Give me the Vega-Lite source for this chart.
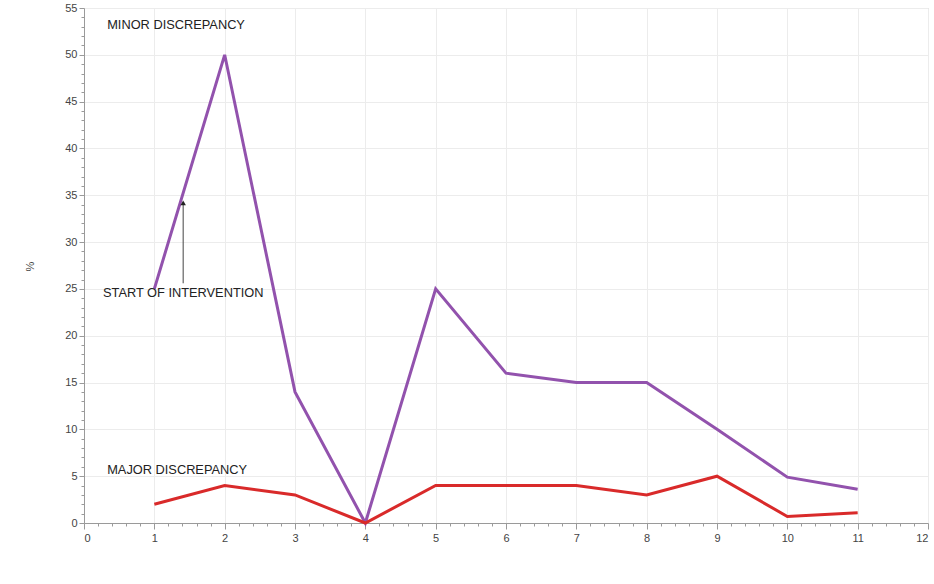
{
  "$schema": "https://vega.github.io/schema/vega-lite/v6.json",
  "width": 844,
  "height": 515,
  "autosize": {"type": "none"},
  "padding": {"left": 84, "top": 8, "right": 6, "bottom": 61},
  "background": "white",
  "config": {
    "view": {"stroke": "#c8c8c8", "strokeWidth": 1},
    "font": "Liberation Sans",
    "axis": {"labelFont": "Liberation Sans", "titleFont": "Liberation Sans"}
  },
  "datasets": {
    "series": [
      {"x": 1, "pct": 25, "series": "Minor"},
      {"x": 2, "pct": 50, "series": "Minor"},
      {"x": 3, "pct": 14, "series": "Minor"},
      {"x": 4, "pct": 0, "series": "Minor"},
      {"x": 5, "pct": 25, "series": "Minor"},
      {"x": 6, "pct": 16, "series": "Minor"},
      {"x": 7, "pct": 15, "series": "Minor"},
      {"x": 8, "pct": 15, "series": "Minor"},
      {"x": 9, "pct": 10, "series": "Minor"},
      {"x": 10, "pct": 4.9, "series": "Minor"},
      {"x": 11, "pct": 3.6, "series": "Minor"},
      {"x": 1, "pct": 2, "series": "Major"},
      {"x": 2, "pct": 4, "series": "Major"},
      {"x": 3, "pct": 3, "series": "Major"},
      {"x": 4, "pct": 0, "series": "Major"},
      {"x": 5, "pct": 4, "series": "Major"},
      {"x": 6, "pct": 4, "series": "Major"},
      {"x": 7, "pct": 4, "series": "Major"},
      {"x": 8, "pct": 3, "series": "Major"},
      {"x": 9, "pct": 5, "series": "Major"},
      {"x": 10, "pct": 0.7, "series": "Major"},
      {"x": 11, "pct": 1.1, "series": "Major"}
    ],
    "labels": [
      {"x": 0.33, "pct": 53.2, "label": "MINOR DISCREPANCY"},
      {"x": 0.33, "pct": 5.7, "label": "MAJOR DISCREPANCY"},
      {"x": 0.27, "pct": 24.6, "label": "START OF INTERVENTION"}
    ],
    "arrow": [
      {"x": 1.41, "pct": 25.6, "pct2": 34.2}
    ]
  },
  "layer": [
    {
      "data": {"name": "series"},
      "mark": {"type": "line", "strokeWidth": 3},
      "encoding": {
        "x": {
          "field": "x", "type": "quantitative",
          "scale": {"domain": [0, 12], "nice": false, "zero": false},
          "axis": {
            "values": [0,0.2,0.4,0.6,0.8,1,1.2,1.4,1.6,1.8,2,2.2,2.4,2.6,2.8,3,3.2,3.4,3.6,3.8,4,4.2,4.4,4.6,4.8,5,5.2,5.4,5.6,5.8,6,6.2,6.4,6.6,6.8,7,7.2,7.4,7.6,7.8,8,8.2,8.4,8.6,8.8,9,9.2,9.4,9.6,9.8,10,10.2,10.4,10.6,10.8,11,11.2,11.4,11.6,11.8,12],
            "tickCount": 200,
            "tickMinStep": 0.05,
            "format": "d",
            "labelExpr": "abs(datum.value - round(datum.value)) < 0.001 ? datum.label : ''",
            "labelOverlap": false,
            "title": null, "grid": true, "gridColor": "#ececec", "gridWidth": 1,
            "gridOpacity": {"condition": {"test": "abs(datum.value - round(datum.value)) < 0.001", "value": 1}, "value": 0},
            "tickSize": {"condition": {"test": "abs(datum.value - round(datum.value)) < 0.001", "value": 6}, "value": 3},
            "domainColor": "#9a9a9a", "tickColor": "#9a9a9a",
            "labelFontSize": 11, "labelColor": "#444", "labelPadding": 3, "orient": "bottom"
          }
        },
        "y": {
          "field": "pct", "type": "quantitative",
          "scale": {"domain": [0, 55], "nice": false},
          "axis": {
            "values": [0,1,2,3,4,5,6,7,8,9,10,11,12,13,14,15,16,17,18,19,20,21,22,23,24,25,26,27,28,29,30,31,32,33,34,35,36,37,38,39,40,41,42,43,44,45,46,47,48,49,50,51,52,53,54,55],
            "tickCount": 200,
            "tickMinStep": 0.5,
            "format": "d",
            "labelExpr": "datum.value % 5 === 0 ? datum.label : ''",
            "labelOverlap": false,
            "title": "%", "titleFontSize": 11, "titleFontWeight": "normal", "titleColor": "#444",
            "titleX": -49, "titleY": 258,
            "grid": true, "gridColor": "#ececec", "gridWidth": 1,
            "gridOpacity": {"condition": {"test": "datum.value % 5 === 0", "value": 1}, "value": 0},
            "tickSize": {"condition": {"test": "datum.value % 5 === 0", "value": 5}, "value": 3},
            "domainColor": "#9a9a9a", "tickColor": "#9a9a9a",
            "labelFontSize": 11, "labelColor": "#444", "labelPadding": 2, "orient": "left"
          }
        },
        "color": {
          "field": "series", "type": "nominal",
          "scale": {"domain": ["Minor", "Major"], "range": ["#9252ad", "#d92a2a"]},
          "legend": null
        },
        "detail": {"field": "series"}
      }
    },
    {
      "data": {"name": "labels"},
      "mark": {"type": "text", "align": "left", "baseline": "middle", "fontSize": 12.8, "color": "#222", "font": "Liberation Sans"},
      "encoding": {
        "x": {"field": "x", "type": "quantitative"},
        "y": {"field": "pct", "type": "quantitative"},
        "text": {"field": "label"}
      }
    },
    {
      "data": {"name": "arrow"},
      "mark": {"type": "rule", "color": "#444", "strokeWidth": 1},
      "encoding": {
        "x": {"field": "x", "type": "quantitative"},
        "y": {"field": "pct", "type": "quantitative"},
        "y2": {"field": "pct2"}
      }
    },
    {
      "data": {"name": "arrow"},
      "mark": {"type": "point", "shape": "triangle-up", "filled": true, "color": "#222", "size": 30, "opacity": 1},
      "encoding": {
        "x": {"field": "x", "type": "quantitative"},
        "y": {"field": "pct2", "type": "quantitative"}
      }
    }
  ]
}
